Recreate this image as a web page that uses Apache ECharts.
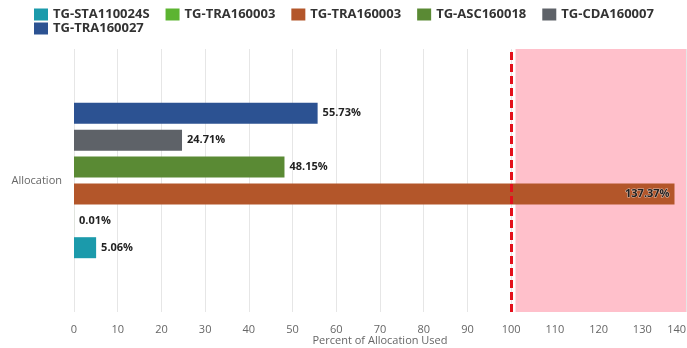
<!DOCTYPE html>
<html>
<head>
    <meta charset="utf-8">
    <script src="https://cdn.jsdelivr.net/npm/echarts@6/dist/echarts.min.js"></script>
    <style>
        * { padding: 0; margin: 0 }
        html, body { width: 100%; height: 100% }
        #container { width: 687px; height: 348px; background: #fff }
    </style>
</head>
<body>
    <div id="container"></div>
</body>
<script>
    // data
    const categories = ['Allocation'];
    const seriesNames = ['TG-STA110024S', 'TG-TRA160003', 'TG-TRA160003', 'TG-ASC160018', 'TG-CDA160007', 'TG-TRA160027'];
    const seriesValues = [5.06, 0.01, 137.37, 48.15, 24.71, 55.73];
    const seriesColors = ['#1b9aab', '#5cb431', '#b3562a', '#5a8a34', '#5e6268', '#2c5292'];
    const xTicks = [0, 10, 20, 30, 40, 50, 60, 70, 80, 90, 100, 110, 120, 130, 140];
    const limit = 100;

    const myChart = echarts.init(document.getElementById('container'));
    const font = '"Open Sans", "DejaVu Sans", sans-serif';

    // legend keys are unique, the text shown comes from seriesNames
    const keys = seriesNames.map((n, i) => 's' + i);
    const nameOf = k => seriesNames[keys.indexOf(k)];

    const legendBase = {
        left: 34,
        padding: 0,
        orient: 'horizontal',
        itemWidth: 14,
        itemHeight: 12,
        itemGap: 16,
        icon: 'rect',
        formatter: nameOf,
        textStyle: { color: '#333', fontSize: 13, fontWeight: 'bold', fontFamily: font }
    };

    const series = seriesValues.map((v, i) => {
        const s = {
            type: 'bar',
            name: keys[i],
            data: [v],
            barWidth: 21,
            barGap: '28%',
            itemStyle: { color: seriesColors[i] },
            label: {
                show: true,
                position: v > xTicks[xTicks.length - 1] - 10 ? 'insideRight' : 'right',
                distance: 5,
                formatter: p => p.value.toFixed(2) + '%',
                color: '#222',
                fontSize: 11,
                fontWeight: 'bold',
                fontFamily: font,
                textBorderColor: 'rgba(255,255,255,0.6)',
                textBorderWidth: 1
            }
        };
        if (i === 0) {
            s.markArea = {
                silent: true,
                itemStyle: { color: '#ffc0cb' },
                data: [[{ xAxis: limit + 1 }, { xAxis: xTicks[xTicks.length - 1] }]]
            };
            s.markLine = {
                silent: true,
                symbol: 'none',
                label: { show: false },
                lineStyle: { color: '#e3101c', width: 3, type: [8, 4] },
                data: [{ xAxis: limit }]
            };
        }
        return s;
    });
    // first series sits at the bottom of the group
    series.reverse();

    myChart.setOption({
        animation: false,
        legend: [
            Object.assign({}, legendBase, { top: 8, data: keys.slice(0, 5) }),
            Object.assign({}, legendBase, { top: 22, data: keys.slice(5) })
        ],
        grid: { left: 74, right: 1, top: 49, bottom: 36, outerBoundsMode: 'none' },
        xAxis: {
            type: 'value',
            min: xTicks[0],
            max: xTicks[xTicks.length - 1],
            interval: 10,
            name: 'Percent of Allocation Used',
            nameLocation: 'middle',
            nameGap: 23,
            nameMoveOverlap: false,
            nameTextStyle: { color: '#666', fontSize: 11, fontFamily: font },
            axisLine: { show: false },
            axisTick: { show: false },
            axisLabel: { color: '#666', fontSize: 11, margin: 12, fontFamily: font, alignMaxLabel: 'right' },
            splitLine: { lineStyle: { color: '#e6e6e6' } }
        },
        yAxis: {
            type: 'category',
            data: categories,
            axisLine: { show: false },
            axisTick: { show: false },
            axisLabel: { color: '#666', fontSize: 11, margin: 12, fontFamily: font }
        },
        series: series
    });
</script>
</html>
